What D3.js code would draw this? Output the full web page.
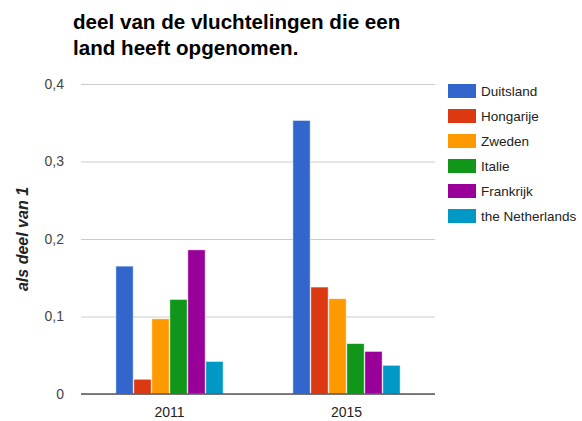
<!DOCTYPE html>
<html>
<head>
<meta charset="UTF-8">
<script src="https://d3js.org/d3.v7.min.js"></script>
<style>
  body { margin: 0; background: #fff; }
  text { font-family: Arial, "Liberation Sans", sans-serif; }
</style>
</head>
<body>
<svg width="582" height="421"></svg>
<script>
// data
var years = ["2011", "2015"];
var countries = ["Duitsland", "Hongarije", "Zweden", "Italie", "Frankrijk", "the Netherlands"];
var colors = ["#3366cc", "#dc3912", "#ff9900", "#109618", "#990099", "#0099c6"];
var values2011 = [0.165, 0.019, 0.097, 0.122, 0.186, 0.042];
var values2015 = [0.353, 0.138, 0.123, 0.065, 0.055, 0.037];
var yTicks = [0, 0.1, 0.2, 0.3, 0.4];

var svg = d3.select("svg");
// plot area (not "top": that name clashes with window.top)
var plotL = 81, plotR = 435, plotT = 84, plotB = 394;

var x0 = d3.scaleBand().domain(years).range([plotL, plotR]).paddingInner(0.386).paddingOuter(0.193);
var x1 = d3.scaleBand().domain(countries).range([0, x0.bandwidth()]).padding(0.04);
var y = d3.scaleLinear().domain([0, 0.4]).range([plotB, plotT]);

// title
svg.append("text").attr("x", 73).attr("y", 29)
    .attr("font-size", "20.6px").attr("font-weight", "bold").attr("fill", "#000")
    .text("deel van de vluchtelingen die een");
svg.append("text").attr("x", 73).attr("y", 55)
    .attr("font-size", "20.6px").attr("font-weight", "bold").attr("fill", "#000")
    .text("land heeft opgenomen.");

// gridlines + y labels
var yAxis = svg.append("g").attr("transform", "translate(" + plotL + ",0)")
    .call(d3.axisLeft(y).tickValues(yTicks).tickSize(-(plotR - plotL)).tickPadding(17)
        .tickFormat(function(d) { return d === 0 ? "0" : d3.format(".1f")(d).replace(".", ","); }));
yAxis.select(".domain").remove();
yAxis.selectAll(".tick line").attr("stroke", "#cccccc");
yAxis.selectAll(".tick text").attr("font-size", "14px").attr("fill", "#444").style("font-family", "Arial, 'Liberation Sans', sans-serif");

// y title
svg.append("text")
    .attr("transform", "translate(28," + ((plotT + plotB) / 2) + ") rotate(-90)")
    .attr("text-anchor", "middle")
    .attr("font-size", "16px").attr("font-weight", "bold").attr("font-style", "italic").attr("fill", "#222")
    .text("als deel van 1");

// bars
var series = { "2011": values2011, "2015": values2015 };
var groups = svg.selectAll(".grp").data(years).enter().append("g")
    .attr("transform", function(d) { return "translate(" + x0(d) + ",0)"; });
groups.selectAll("rect")
    .data(function(yr) { return countries.map(function(c, i) { return { c: c, v: series[yr][i], i: i }; }); })
    .enter().append("rect")
    .attr("x", function(d) { return x1(d.c); })
    .attr("width", x1.bandwidth())
    .attr("y", function(d) { return y(d.v); })
    .attr("height", function(d) { return plotB - y(d.v); })
    .attr("fill", function(d) { return colors[d.i]; })
    .attr("stroke", "#fff").attr("stroke-opacity", 0.6).attr("stroke-width", 0.8);

// baseline
svg.append("line").attr("x1", plotL).attr("x2", plotR).attr("y1", plotB).attr("y2", plotB)
    .attr("stroke", "#555").attr("stroke-width", 1.5);

// x labels
var xAxis = svg.append("g").attr("transform", "translate(0," + plotB + ")")
    .call(d3.axisBottom(x0).tickSize(0).tickPadding(13));
xAxis.select(".domain").remove();
xAxis.selectAll(".tick text").attr("font-size", "14px").attr("fill", "#222").style("font-family", "Arial, 'Liberation Sans', sans-serif");

// legend
var legend = svg.selectAll(".leg").data(countries).enter().append("g")
    .attr("transform", function(d, i) { return "translate(448," + (91 + i * 25) + ")"; });
legend.append("rect").attr("x", 0).attr("y", -7).attr("width", 28).attr("height", 14)
    .attr("fill", function(d, i) { return colors[i]; });
legend.append("text").attr("x", 33).attr("y", 5)
    .attr("font-size", "13.5px").attr("fill", "#222")
    .text(function(d) { return d; });
</script>
</body>
</html>
